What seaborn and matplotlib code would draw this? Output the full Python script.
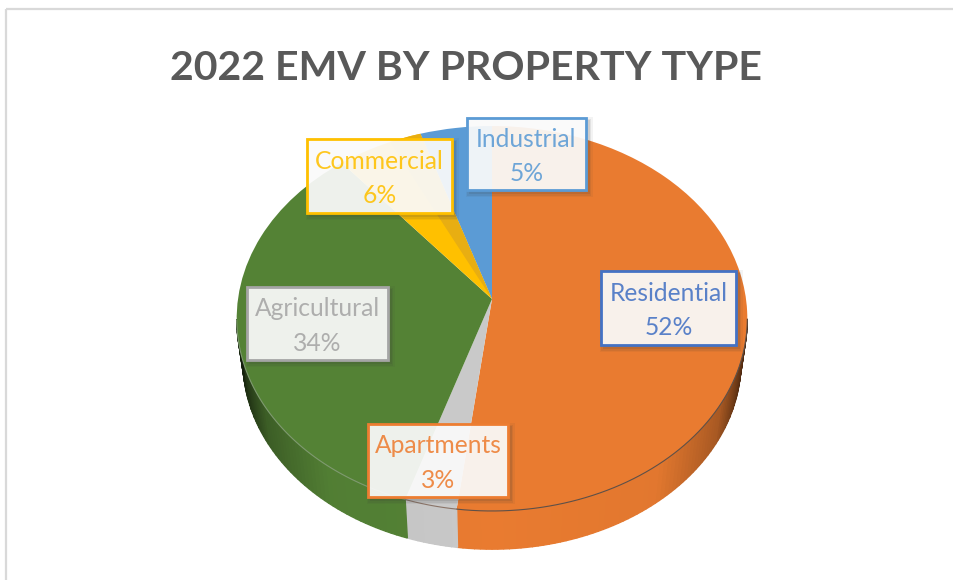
import numpy as np
import matplotlib
matplotlib.use("Agg")
import matplotlib.pyplot as plt
import matplotlib.transforms as mtransforms
from matplotlib.patches import Rectangle, Wedge
from matplotlib.colors import to_rgb
import seaborn as sns

# -------------------
# Data
categories = ["Residential", "Apartments", "Agricultural", "Commercial", "Industrial"]
shares = [52, 3, 34, 6, 5]
slice_colors = ["#E97B30", "#C9C9C9", "#548235", "#FFC000", "#5B9BD5"]
label_colors = ["#4472C4", "#ED7D31", "#A5A5A5", "#FFC000", "#5B9BD5"]
rim_colors = ["#5E5048", "#8A7468", "#7F9A70", "#FFC000", "#5B9BD5"]
title = "2022 EMV BY PROPERTY TYPE"

# label boxes in image pixels: left, top, right, bottom
label_boxes = [(601, 271, 736, 345), (368, 424, 508, 497), (247, 287, 388, 360),
               (307, 139, 452, 213), (467, 118, 586, 190)]

# -------------------
# Perspective of the tilted disc, in image pixels
CX, CY = 492, 299
RX, RY, K = 254, 190.5, 0.1013
BASE_SCALE, BASE_DROP = 0.975, 43.5


def project(xy, scale=1.0, drop=0.0):
    xy = np.asarray(xy, dtype=float).reshape(-1, 2)
    d = 1 + K * xy[:, 1]
    return np.column_stack([CX + scale * RX * xy[:, 0] / d,
                            CY + drop - scale * RY * xy[:, 1] / d])


class Tilt(mtransforms.Transform):
    input_dims = 2
    output_dims = 2

    def transform_non_affine(self, values):
        return project(values)


sns.set_theme(style="white")
plt.rcParams["font.family"] = ["Lato", "DejaVu Sans"]

fig = plt.figure(figsize=(9.54, 5.8), dpi=100)
ax = fig.add_axes([0, 0, 1, 1])

wedges, _ = ax.pie(shares, colors=slice_colors, startangle=90, counterclock=False,
                   wedgeprops={"edgecolor": "none", "linewidth": 0})
ax.set_aspect("auto")
ax.set_xlim(0, 954)
ax.set_ylim(580, 0)
ax.axis("off")

tilt = Tilt() + ax.transData
for w in wedges:
    w.set_transform(tilt)
    w.set_zorder(3)

# darker strip on the commercial slice
end = 90 - 360 * sum(shares[:4]) / 100
ax.add_patch(Wedge((0, 0), 1, end, end + 8, facecolor="#E8AE12", edgecolor="none",
                   lw=0, zorder=3.1, transform=tilt))

# -------------------
# Side wall, split in thin strips so it darkens towards both ends
bounds = np.cumsum([0] + shares) / 100 * 2 * np.pi
for i, color in enumerate(slice_colors):
    steps = max(int(shares[i] * 3), 2)
    angles = np.linspace(bounds[i], bounds[i + 1], steps + 1)
    for a0, a1 in zip(angles[:-1], angles[1:]):
        um = np.sin((a0 + a1) / 2)
        if np.cos((a0 + a1) / 2) > -0.1:
            continue
        shade = np.interp(abs(um), [0, 0.6, 0.85, 0.96, 1], [1, 0.97, 0.72, 0.38, 0.2])
        rgb = tuple(c * shade for c in to_rgb(color))
        arc = np.array([[np.sin(a0), np.cos(a0)], [np.sin(a1), np.cos(a1)]])
        top = project(arc)
        low = project(arc, BASE_SCALE, BASE_DROP)
        pts = np.vstack([top, low[::-1]])
        ax.fill(pts[:, 0], pts[:, 1], facecolor=rgb, edgecolor=rgb, lw=1.0, zorder=2)

# rim between disc and side wall, slice by slice
for i, color in enumerate(rim_colors):
    rim_angles = np.linspace(bounds[i], bounds[i + 1], 120)
    rim_angles = rim_angles[np.cos(rim_angles) < -0.1]
    if len(rim_angles) < 2:
        continue
    rim = project(np.column_stack([np.sin(rim_angles), np.cos(rim_angles)]))
    ax.plot(rim[:, 0], rim[:, 1], color=color, lw=0.8, zorder=3.2)

# -------------------
# Chart frame and title
ax.add_patch(Rectangle((6, 9), 1000, 600, facecolor="none", edgecolor="#D9D9D9", lw=1.6, zorder=1))
ax.text(466, 68.5, title, ha="center", va="center", fontsize=29.6, fontweight="bold",
        color="#595959", zorder=6)

# -------------------
# Data labels
for name, share, col, (x0, y0, x1, y1) in zip(categories, shares, label_colors, label_boxes):
    for grow, alpha in zip([4, 2.5, 1], [0.06, 0.09, 0.12]):
        ax.add_patch(Rectangle((x0 + 3 - grow, y0 + 3 - grow), x1 - x0 + 2 * grow, y1 - y0 + 2 * grow,
                               facecolor="#3A3A3A", edgecolor="none", alpha=alpha, zorder=4))
    ax.add_patch(Rectangle((x0, y0), x1 - x0, y1 - y0, facecolor=(1, 1, 1, 0.91),
                           edgecolor=col, lw=2, zorder=5))
    ax.text((x0 + x1) / 2, (y0 + y1) / 2 + 2.5, f"{name}\n{share}%", ha="center", va="center",
            fontsize=17.7, color=col, alpha=0.88, linespacing=1.58, zorder=6)

fig.savefig("out.png", dpi=100)
